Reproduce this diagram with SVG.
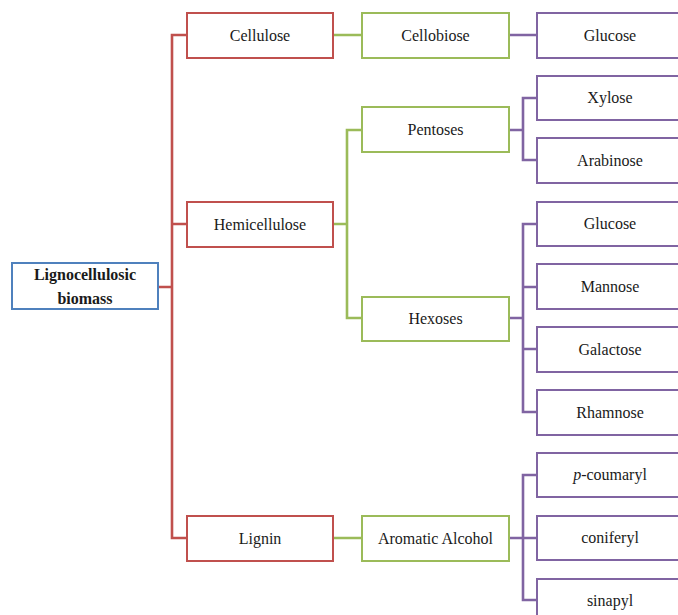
<svg xmlns="http://www.w3.org/2000/svg" width="678" height="615" viewBox="0 0 678 615">
<style>
rect{fill:#fff;stroke-width:2}
.r{stroke:#c0504d}.g{stroke:#9bbb59}.p{stroke:#8064a2}.b{stroke:#4f81bd}
text{font-family:"Liberation Serif","Times New Roman",serif;font-size:16px;fill:#1a1a1a;text-anchor:middle}
.t{font-weight:bold}
#connectors path{fill:none;stroke-width:2.6}
</style>
<rect width="678" height="615" fill="#fff" stroke="none"/>
<g id="connectors">
<path class="r" d="M158 287H172M187 35H172V538H187M172 224H187"/>
<path class="g" d="M333 35H362M333 224H347M362 130H347V318H362M333 538H362"/>
<path class="p" d="M509 35H537M509 130H523M537 98H523V160H537M509 318H523M537 224H523V412H537M523 287H537M523 349H537M509 538H523M537 475H523V600H537M523 538H537"/>
</g>
<g id="root"><rect class="b" x="12" y="263" width="146" height="46"/><text class="t" x="85" y="280">Lignocellulosic</text><text class="t" x="85" y="304">biomass</text></g>
<g id="cellulose"><rect class="r" x="187" y="13" width="146" height="45"/><text x="260" y="41">Cellulose</text></g>
<g id="hemicellulose"><rect class="r" x="187" y="202" width="146" height="45"/><text x="260" y="230">Hemicellulose</text></g>
<g id="lignin"><rect class="r" x="187" y="516" width="146" height="45"/><text x="260" y="544">Lignin</text></g>
<g id="cellobiose"><rect class="g" x="362" y="13" width="147" height="45"/><text x="435.5" y="41">Cellobiose</text></g>
<g id="pentoses"><rect class="g" x="362" y="107" width="147" height="45"/><text x="435.5" y="135">Pentoses</text></g>
<g id="hexoses"><rect class="g" x="362" y="297" width="147" height="44"/><text x="435.5" y="324">Hexoses</text></g>
<g id="aromatic"><rect class="g" x="362" y="516" width="147" height="45"/><text x="435.5" y="544">Aromatic Alcohol</text></g>
<g id="glucose1"><rect class="p" x="537" y="13" width="150" height="45"/><text x="610" y="41">Glucose</text></g>
<g id="xylose"><rect class="p" x="537" y="76" width="150" height="44"/><text x="610" y="103">Xylose</text></g>
<g id="arabinose"><rect class="p" x="537" y="138" width="150" height="45"/><text x="610" y="166">Arabinose</text></g>
<g id="glucose2"><rect class="p" x="537" y="202" width="150" height="44"/><text x="610" y="229">Glucose</text></g>
<g id="mannose"><rect class="p" x="537" y="264" width="150" height="45"/><text x="610" y="292">Mannose</text></g>
<g id="galactose"><rect class="p" x="537" y="327" width="150" height="45"/><text x="610" y="355">Galactose</text></g>
<g id="rhamnose"><rect class="p" x="537" y="390" width="150" height="45"/><text x="610" y="418">Rhamnose</text></g>
<g id="coumaryl"><rect class="p" x="537" y="453" width="150" height="44"/><text x="610" y="480"><tspan font-style="italic">p</tspan>-coumaryl</text></g>
<g id="coniferyl"><rect class="p" x="537" y="516" width="150" height="44"/><text x="610" y="543">coniferyl</text></g>
<g id="sinapyl"><rect class="p" x="537" y="579" width="150" height="45"/><text x="610" y="606">sinapyl</text></g>
</svg>
